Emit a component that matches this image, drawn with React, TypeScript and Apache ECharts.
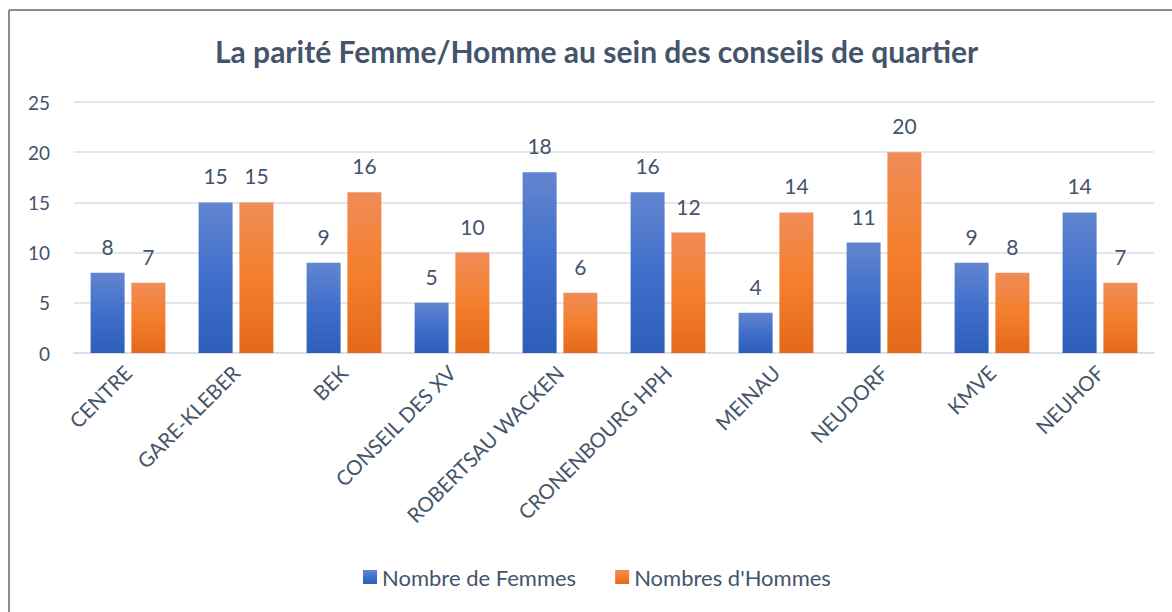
import React, { useEffect, useRef } from "react";
import * as echarts from "echarts";

const categories = [
  "CENTRE",
  "GARE-KLEBER",
  "BEK",
  "CONSEIL DES XV",
  "ROBERTSAU WACKEN",
  "CRONENBOURG HPH",
  "MEINAU",
  "NEUDORF",
  "KMVE",
  "NEUHOF",
];
const femmes = [8, 15, 9, 5, 18, 16, 4, 11, 9, 14];
const hommes = [7, 15, 16, 10, 6, 12, 14, 20, 8, 7];
const yTicks = [0, 5, 10, 15, 20, 25];

const TEXT = "#44546A";
const FONT = "Lato, 'Noto Sans', sans-serif";

export default function App() {
  const ref = useRef<HTMLDivElement>(null);
  useEffect(() => {
    if (!ref.current) return;
    const chart = echarts.init(ref.current, undefined, { renderer: "svg" });
    const blue = new echarts.graphic.LinearGradient(0, 0, 0, 1, [
      { offset: 0, color: "#6285CF" },
      { offset: 0.5, color: "#3F6FCB" },
      { offset: 1, color: "#2D5EB9" },
    ]);
    const orange = new echarts.graphic.LinearGradient(0, 0, 0, 1, [
      { offset: 0, color: "#F08C58" },
      { offset: 0.5, color: "#F47F2C" },
      { offset: 1, color: "#E4691A" },
    ]);
    const labelStyle = {
      show: true,
      position: "top" as const,
      distance: 16,
      color: TEXT,
      fontSize: 21,
      fontFamily: FONT,
    };
    chart.setOption({
      animation: false,
      backgroundColor: "#ffffff",
      textStyle: { fontFamily: FONT },
      title: {
        text: "La parité Femme/Homme au sein des conseils de quartier",
        left: 210,
        top: 31,
        textStyle: {
          color: TEXT,
          fontSize: 30,
          fontWeight: "bold",
          fontFamily: FONT,
        },
      },
      grid: { left: 74, right: 18, top: 102, bottom: 259, containLabel: false },
      legend: {
        bottom: 19,
        left: 358,
        itemWidth: 14,
        itemHeight: 14,
        itemGap: 39,
        icon: "rect",
        textStyle: { color: TEXT, fontSize: 22, fontFamily: FONT },
        data: ["Nombre de Femmes", "Nombres d'Hommes"],
      },
      xAxis: {
        type: "category",
        data: categories,
        axisLine: { show: true, lineStyle: { color: "#D9DDE3", width: 1.5 } },
        axisTick: { show: false },
        axisLabel: {
          rotate: 45,
          interval: 0,
          margin: 16,
          color: TEXT,
          fontSize: 20.5,
          fontFamily: FONT,
        },
      },
      yAxis: {
        type: "value",
        min: 0,
        max: 25,
        interval: 5,
        axisLine: { show: false },
        axisTick: { show: false },
        axisLabel: {
          margin: 24,
          color: TEXT,
          fontSize: 19,
          fontFamily: FONT,
          formatter: (v: number) => (yTicks.includes(v) ? String(v) : ""),
        },
        splitLine: { lineStyle: { color: "#D9DDE3", width: 1.5 } },
      },
      series: [
        {
          name: "Nombre de Femmes",
          type: "bar",
          data: femmes,
          barWidth: 34,
          barGap: "20%",
          itemStyle: { color: blue },
          label: labelStyle,
        },
        {
          name: "Nombres d'Hommes",
          type: "bar",
          data: hommes,
          barWidth: 34,
          barGap: "20%",
          itemStyle: { color: orange },
          label: labelStyle,
        },
      ],
      graphic: [
        {
          type: "line",
          shape: { x1: 9, y1: 10, x2: 1172, y2: 10 },
          style: { stroke: "#8C8C8C", lineWidth: 2 },
        },
        {
          type: "line",
          shape: { x1: 9, y1: 10, x2: 9, y2: 612 },
          style: { stroke: "#8C8C8C", lineWidth: 2 },
        },
      ],
    });
    return () => chart.dispose();
  }, []);
  return (
    <div
      ref={ref}
      style={{ position: "fixed", left: 0, top: 0, width: 1172, height: 612 }}
    />
  );
}
